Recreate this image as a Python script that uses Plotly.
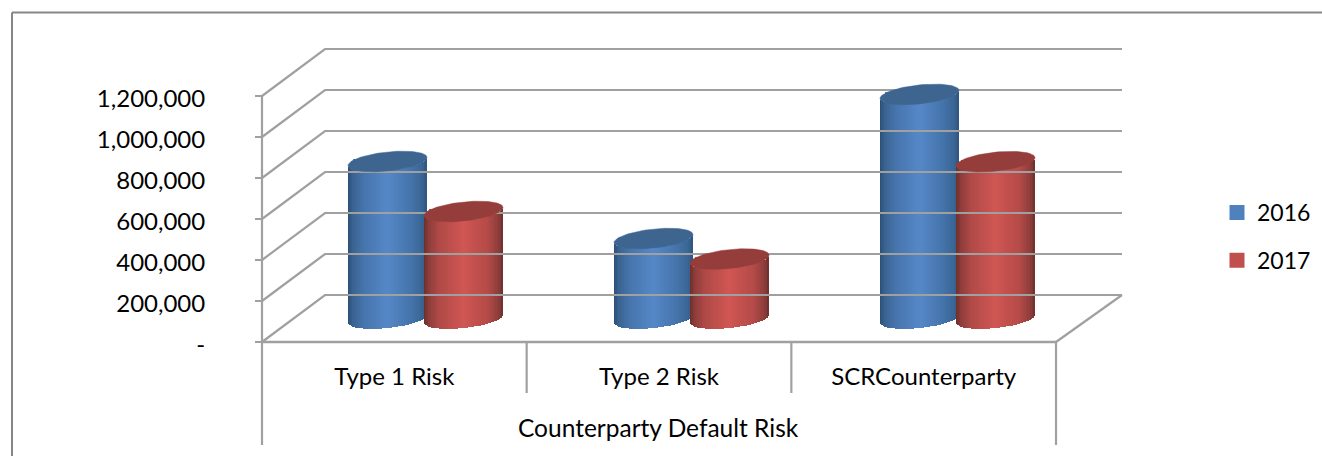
import numpy as np
import plotly.graph_objects as go

categories = ["Type 1 Risk", "Type 2 Risk", "SCRCounterparty"]
group_label = "Counterparty Default Risk"
values_2016 = [766000, 390000, 1093000]
values_2017 = [522000, 290000, 765000]
tick_values = [0, 200000, 400000, 600000, 800000, 1000000, 1200000]
tick_labels = ["-", "200,000", "400,000", "600,000", "800,000", "1,000,000", "1,200,000"]

W, H = 1322, 456
FONT = "Lato"
FS = 24
GRID = "#a0a0a0"
PX_X = 264.67            # pixels per category
PX_Y = 246 / 1200000     # pixels per value unit
X0_PX, Y0_PX = 262, 342  # where the axes origin sits on the page


def dx(px):
    return px / PX_X


def dy(px):
    return px / PX_Y


x_range = [-X0_PX / PX_X, (W - X0_PX) / PX_X]
y_range = [-(H - Y0_PX) / PX_Y, Y0_PX / PX_Y]

DEPTH_X, DEPTH_Y = dx(63), dy(47)
N_CAT = len(categories)
x_end = N_CAT

fig = go.Figure()


def line(xs, ys, width=2.2, color=GRID):
    fig.add_trace(go.Scatter(x=xs, y=ys, mode="lines", showlegend=False, hoverinfo="skip",
                             line=dict(color=color, width=width)))


# walls and floor
for v in tick_values:
    line([0, DEPTH_X, x_end + dx(1122 - 1056)], [v, v + DEPTH_Y, v + DEPTH_Y])
line([x_end, x_end + DEPTH_X * 66 / 63], [0, DEPTH_Y])
line([0, x_end], [0, 0], 2.5)
line([0, 0], [tick_values[-1], -dy(103)])
line([x_end, x_end], [0, -dy(103)])
for i in range(1, N_CAT):
    line([i, i], [0, -dy(51)])

# cylinders
HALF_W, ELL_B, ELL_S = 39.5, 9.5, 4.0
BASE_PX = 23.5
FIRST_CENTER, CENTER_STEP = 163.5, 266
SERIES_SHIFT = 38
STRIPS = 52
stops_u = [-1, -0.88, -0.6, 0, 0.6, 0.88, 1]


def hex_rgb(h):
    return [int(h[i:i + 2], 16) for i in (1, 3, 5)]


series = [
    dict(name="2016", values=values_2016, sign=-1, legend="#4f81bd", cap="#3e6590",
         stops=["#2b4c74", "#39628f", "#4674ac", "#5688c8", "#4574ab", "#3a6594", "#2f5480"]),
    dict(name="2017", values=values_2017, sign=1, legend="#c0504d", cap="#953d3b",
         stops=["#6a2d2b", "#8c3c3a", "#b04a47", "#d05653", "#b54b48", "#8f3e3c", "#6e302e"]),
]

base_value = dy(BASE_PX)
for s in series:
    centers = [dx(FIRST_CENTER + i * CENTER_STEP + s["sign"] * SERIES_SHIFT) for i in range(N_CAT)]
    # core bar: carries the series name and the legend swatch
    fig.add_trace(go.Bar(x=centers, y=s["values"], base=[base_value] * N_CAT, width=dx(66),
                         name=s["name"], legendgroup=s["name"], hoverinfo="skip",
                         marker=dict(color=s["legend"], line=dict(color=s["legend"], width=3))))
    # shaded strips following the cylinder's curved front
    rgb = np.array([hex_rgb(c) for c in s["stops"]], dtype=float)
    us = (np.arange(STRIPS) + 0.5) / STRIPS * 2 - 1
    shades = [f"rgb({np.interp(u, stops_u, rgb[:,0]):.0f},{np.interp(u, stops_u, rgb[:,1]):.0f},"
              f"{np.interp(u, stops_u, rgb[:,2]):.0f})" for u in us]
    xs, ys, bases, cols = [], [], [], []
    for c, v in zip(centers, s["values"]):
        for u, col in zip(us, shades):
            off = -ELL_B * np.sqrt(1 - u * u) + ELL_S * u
            xs.append(c + dx(HALF_W) * u)
            ys.append(v)
            bases.append(base_value + dy(off))
            cols.append(col)
    fig.add_trace(go.Bar(x=xs, y=ys, base=bases, width=dx(2.1), showlegend=False, hoverinfo="skip",
                         marker=dict(color=cols, line=dict(width=0))))
    # top caps
    t = np.linspace(0, 2 * np.pi, 90)
    for c, v in zip(centers, s["values"]):
        fig.add_trace(go.Scatter(
            x=c + dx(HALF_W) * np.cos(t),
            y=v + base_value + dy(ELL_B * np.sin(t) + ELL_S * np.cos(t)),
            mode="lines", fill="toself", fillcolor=s["cap"], showlegend=False, hoverinfo="skip",
            line=dict(color=s["cap"], width=0.5)))

fig.add_annotation(x=dx(658.5 - X0_PX), y=-dy(427 - Y0_PX), text=group_label, showarrow=False,
                   xanchor="center", yanchor="middle", font=dict(family=FONT, size=24.5, color="#000000"))

fig.add_shape(type="line", xref="paper", yref="paper", x0=12 / W, x1=12 / W, y0=0, y1=1 - 12.5 / H,
              line=dict(color="#868686", width=2))
fig.add_shape(type="line", xref="paper", yref="paper", x0=12 / W, x1=1, y0=1 - 12.5 / H, y1=1 - 12.5 / H,
              line=dict(color="#868686", width=2))

fig.update_layout(
    width=W, height=H, margin=dict(l=0, r=0, t=0, b=0), autosize=False,
    paper_bgcolor="#ffffff", plot_bgcolor="#ffffff", barmode="overlay", bargap=0,
    font=dict(family=FONT, size=FS, color="#000000"),
    showlegend=True,
    legend=dict(x=1217 / W, y=1 - 191 / H, xanchor="left", yanchor="top", tracegroupgap=15,
                itemwidth=30, bgcolor="rgba(0,0,0,0)", font=dict(family=FONT, size=23, color="#000000"),
                itemclick=False, itemdoubleclick=False),
    xaxis=dict(range=x_range, domain=[0, 1], anchor="free", position=(H - Y0_PX) / H,
               tickmode="array", tickvals=[i + 0.5 for i in range(N_CAT)], ticktext=categories,
               ticks="", ticklen=0, ticklabelstandoff=18, showgrid=False, zeroline=False, showline=False),
    yaxis=dict(range=y_range, domain=[0, 1], anchor="free", position=X0_PX / W,
               tickmode="array", tickvals=tick_values, ticktext=tick_labels,
               ticks="outside", ticklen=7, tickwidth=2, tickcolor=GRID, ticklabelstandoff=45,
               ticklabelshift=3, showgrid=False, zeroline=False, showline=False),
)

fig.write_html("out.html", config=dict(displayModeBar=False),
               post_script="document.body.style.margin='0';document.body.style.overflow='hidden';")
